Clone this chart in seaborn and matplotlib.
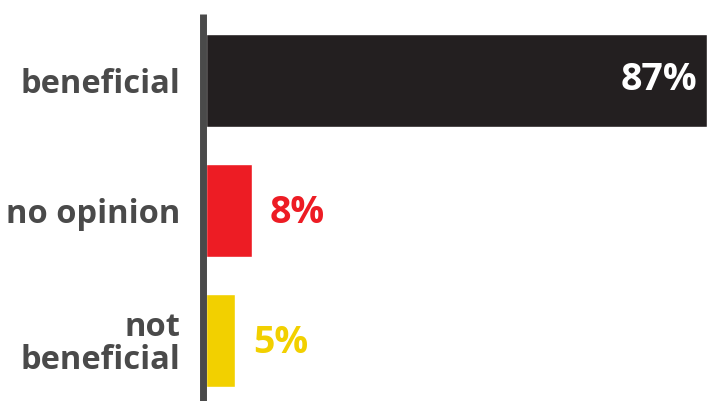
import matplotlib
matplotlib.use("Agg")
import matplotlib.pyplot as plt
import seaborn as sns
import pandas as pd

categories = ["beneficial", "no opinion", "not\nbeneficial"]
values = [87, 8, 5]
value_labels = ["87%", "8%", "5%"]
colors = ["#231f20", "#ed1c24", "#f2d000"]
label_colors = ["#ffffff", "#ed1c24", "#f2d000"]

sns.set_theme(style="white")
plt.rcParams["font.family"] = ["Open Sans", "DejaVu Sans"]

df = pd.DataFrame({"category": categories, "value": values})

W, H = 707, 401
fig = plt.figure(figsize=(W / 100, H / 100), dpi=100)
ax_left_px = 199
ax = fig.add_axes([ax_left_px / W, 0, 1 - ax_left_px / W, 1 - 14 / H])

sns.barplot(data=df, x="value", y="category", hue="category",
            palette=colors, orient="h", width=0.715, legend=False, ax=ax,
            saturation=1)

px_per_unit = 501 / 87
x0 = -(206 - ax_left_px) / px_per_unit
ax.set_xlim(x0, 87)
ax.set_ylim(2 + (401 - 340.5) / 130, -66.5 / 130)

for s in ax.spines.values():
    s.set_visible(False)
ax.axvline(x0 + 3.5 / px_per_unit, color="#4a4a4a", lw=5.0, clip_on=False,
           solid_capstyle="butt")

ax.set_xticks([])
ax.set_xlabel("")
ax.set_ylabel("")
ax.tick_params(axis="y", length=0, pad=13.5)
for t in ax.get_yticklabels():
    t.set_fontsize(23.5)
    t.set_fontweight("bold")
    t.set_color("#4a4a4a")
    t.set_linespacing(1.0)
    t.set_horizontalalignment("right")
    t.set_multialignment("right")

for i, (v, lab) in enumerate(zip(values, value_labels)):
    if i == 0:
        ax.text(v - 10 / px_per_unit, i, lab, ha="right", va="center",
                color=label_colors[i], fontsize=27, fontweight="bold")
    else:
        ax.text(v + 18 / px_per_unit, i + 0.02, lab, ha="left", va="center",
                color=label_colors[i], fontsize=27, fontweight="bold")

fig.savefig("out.png", dpi=100)
